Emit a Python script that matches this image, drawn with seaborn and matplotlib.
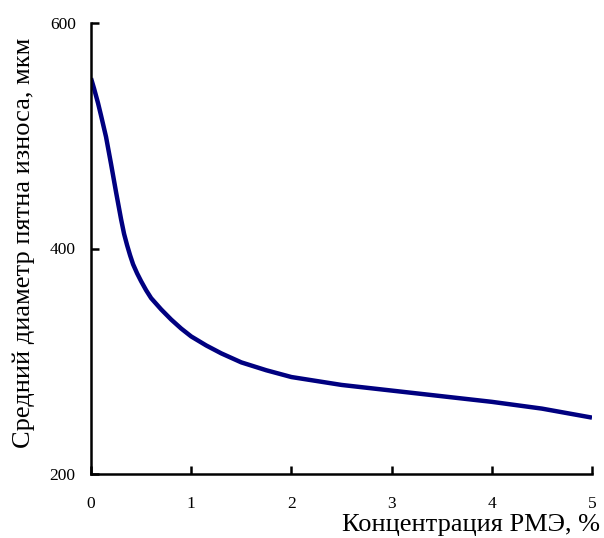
import matplotlib
matplotlib.use("Agg")
import matplotlib.pyplot as plt
import seaborn as sns
import pandas as pd

conc = [0.0, 0.03, 0.07, 0.1, 0.15, 0.2, 0.25, 0.3, 0.33, 0.36, 0.39, 0.42, 0.46,
        0.5, 0.55, 0.6, 0.65, 0.7, 0.8, 0.9, 1.0, 1.15, 1.3, 1.5, 1.75, 2.0, 2.5, 3.0,
        3.5, 4.0, 4.5, 5.0]
diam = [551, 542, 529, 518, 499, 475, 450, 426, 413, 403, 394, 386, 378,
        371, 363, 356, 351, 346, 337, 329, 322, 314, 307, 299, 292, 286, 279, 274,
        269, 264, 258, 250]
xticks = [0, 1, 2, 3, 4, 5]
yticks = [200, 400, 600]

sns.set_style("ticks")
plt.rcParams['font.family'] = ['Liberation Serif', 'DejaVu Serif']
plt.rcParams['text.color'] = 'black'
plt.rcParams['lines.solid_capstyle'] = 'butt'

df = pd.DataFrame({"x": conc, "y": diam})
fig = plt.figure(figsize=(6.04, 5.38), dpi=100)
ax = fig.add_axes([91/604, 1-474/538, (592-91)/604, (474-23)/538])
sns.lineplot(data=df, x="x", y="y", ax=ax, color="#000080", linewidth=3.2)
ax.set_xlim(0, 5)
ax.set_ylim(200, 600)
ax.set_xticks(xticks)
ax.set_yticks(yticks)
for s in ["top", "right"]:
    ax.spines[s].set_visible(False)
for s in ["left", "bottom"]:
    ax.spines[s].set_linewidth(1.8)
    ax.spines[s].set_color("black")
ax.tick_params(axis="x", direction="in", length=6, width=1.8, pad=16, labelsize=12.5,
               colors="black", labelcolor="black")
ax.tick_params(axis="y", direction="in", length=6, width=1.8, pad=11, labelsize=12.5,
               colors="black", labelcolor="black")
ax.set_xlabel("")
ax.set_ylabel("")
fig.text(600/604, 1-525/538, "Концентрация РМЭ, %", ha="right", va="center",
         fontsize=19, color="black")
fig.text(24/604, 1-243/538, "Средний диаметр пятна износа, мкм", ha="center", va="center",
         rotation=90, fontsize=19, color="black")
fig.savefig("out.png", dpi=100)
